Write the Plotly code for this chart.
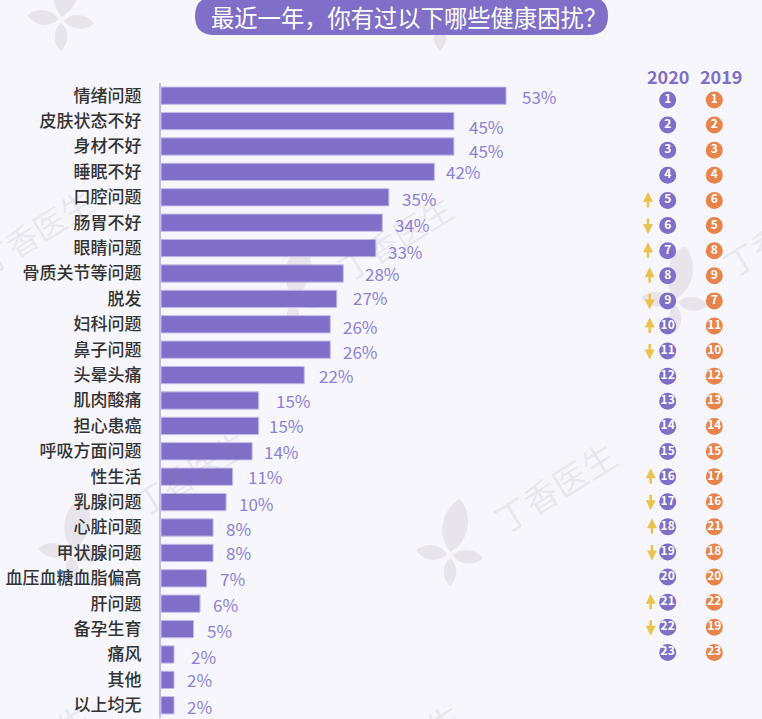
import math

import plotly.graph_objects as go

FONT = "Noto Sans CJK SC"
BG = "#f7f6fc"
PURPLE = "#7f6fc8"
PURPLE_TEXT = "#8c82d6"
ORANGE = "#e8834a"
YELLOW = "#ecc24f"

TITLE = "最近一年，你有过以下哪些健康困扰？"

CATEGORIES = [
    "情绪问题", "皮肤状态不好", "身材不好", "睡眠不好", "口腔问题",
    "肠胃不好", "眼睛问题", "骨质关节等问题", "脱发", "妇科问题",
    "鼻子问题", "头晕头痛", "肌肉酸痛", "担心患癌", "呼吸方面问题",
    "性生活", "乳腺问题", "心脏问题", "甲状腺问题", "血压血糖血脂偏高",
    "肝问题", "备孕生育", "痛风", "其他", "以上均无",
]
VALUES = [53, 45, 45, 42, 35, 34, 33, 28, 27, 26, 26, 22, 15, 15, 14,
          11, 10, 8, 8, 7, 6, 5, 2, 2, 2]

YEARS = ["2020", "2019"]
RANK_2020 = [1, 2, 3, 4, 5, 6, 7, 8, 9, 10, 11, 12, 13, 14, 15, 16, 17, 18, 19, 20, 21, 22, 23]
RANK_2019 = [1, 2, 3, 4, 6, 5, 8, 9, 7, 11, 10, 12, 13, 14, 15, 17, 16, 21, 18, 20, 22, 19, 23]

# the percent labels sit a little unevenly in the original
LABEL_DX = [16, 15, 15, 12, 13, 13, 12, 22, 16, 13, 13, 15, 17, 10, 12,
            15, 13, 13, 13, 13, 13, 13, 17, 13, 13]
LABEL_DY = [1, 5, 4, 0, 1, 2, 3, 0, -1, 2, 2, 0, 0, 0, 0, 0, 1, 1, 0, 0, 1, 1, 2, 0, 1]
ARROW_DX = {5: -19.7, 6: -19.7, 7: -19.7, 8: -18, 9: -18, 10: -18, 11: -18,
            16: -17, 17: -17, 18: -15.7, 19: -15.7, 21: -17, 22: -17}

WIDTH, HEIGHT = 762, 719
PLOT_L, PLOT_T, PLOT_B = 161, 83, 718


def paper_x(px):
    return (px - PLOT_L) / (WIDTH - PLOT_L)


def paper_y(py):
    return (PLOT_B - py) / (PLOT_B - PLOT_T)


def petal(cx, cy, angle, length, width):
    # leaf shape from the flower centre outwards, as an svg path in paper coords
    a = math.radians(angle)
    ux, uy = math.cos(a), -math.sin(a)
    nx, ny = -uy, ux
    pt = lambda along, side: f"{paper_x(cx + ux * along + nx * side):.4f},{paper_y(cy + uy * along + ny * side):.4f}"
    return (f"M{pt(3, 0)} C{pt(length * 0.3, width * 0.7)} {pt(length * 0.75, width * 0.7)} {pt(length, 0)} "
            f"C{pt(length * 0.75, -width * 0.7)} {pt(length * 0.3, -width * 0.7)} {pt(3, 0)} Z")


def flower(cx, cy):
    parts = [(80, 57, 24), (172, 34, 14), (-6, 33, 13), (-90, 31, 12)]
    return [
        dict(type="path", xref="paper", yref="paper", layer="below", line_width=0,
             fillcolor="#e7e5eb", path=petal(cx, cy, ang, ln, wd))
        for ang, ln, wd in parts
    ]


fig = go.Figure()

fig.add_trace(go.Bar(
    x=VALUES, y=CATEGORIES, orientation="h",
    marker=dict(color=PURPLE, line=dict(color="#c3bbe9", width=1)),
    width=0.68,
    showlegend=False,
))

# x2 positions are plain indices: a category named "2020" would be read as index 2020
for i, (ranks, color) in enumerate(zip((RANK_2020, RANK_2019), (PURPLE, ORANGE))):
    fig.add_trace(go.Scatter(
        x=[i] * len(ranks), y=list(range(1, len(ranks) + 1)),
        xaxis="x2", yaxis="y2",
        mode="markers+text",
        marker=dict(size=17, color=color),
        text=[str(r) for r in ranks],
        textposition="middle center",
        textfont=dict(family=FONT, size=12, color="white", weight="bold"),
        cliponaxis=False,
        showlegend=False,
    ))

annotations = []

# percent labels
for cat, val, dx, dy in zip(CATEGORIES, VALUES, LABEL_DX, LABEL_DY):
    annotations.append(dict(
        x=val, y=cat, xref="x", yref="y", text=f"{val}%", showarrow=False,
        xanchor="left", yanchor="middle", xshift=dx - 2, yshift=-dy,
        font=dict(family=FONT, size=17, color=PURPLE_TEXT),
    ))

# rank change arrows
for pos, (now, before) in enumerate(zip(RANK_2020, RANK_2019), start=1):
    if now == before:
        continue
    up = before > now
    annotations.append(dict(
        x=0, y=pos, xref="x2", yref="y2", text="",
        showarrow=True, arrowhead=2, arrowsize=0.8, arrowwidth=2.5, arrowcolor=YELLOW,
        ax=0, ay=17 if up else -17, standoff=0,
        xshift=ARROW_DX[now], yshift=8.5 if up else -8.5,
    ))

# year headers
for i, (year, shift) in enumerate(zip(YEARS, (0, 7))):
    annotations.append(dict(
        x=i, y=paper_y(76), xref="x2", yref="paper", text=year, showarrow=False,
        xanchor="center", yanchor="middle", xshift=shift,
        font=dict(family=FONT, size=18, color=PURPLE, weight="bold"),
    ))

# title on the pill
annotations.append(dict(
    x=paper_x(409), y=paper_y(17), xref="paper", yref="paper", text=TITLE, showarrow=False,
    xanchor="center", yanchor="middle",
    font=dict(family=FONT, size=23.3, color="white"),
))

# 丁香医生 watermarks
for cx, cy, size in [(35, 231, 32), (395, 237, 32), (780, 233, 32), (190, 472, 32),
                     (555, 487, 34), (400, 748, 34), (30, 748, 34)]:
    annotations.append(dict(
        x=paper_x(cx), y=paper_y(cy), xref="paper", yref="paper", text="丁香医生",
        showarrow=False, textangle=-32, xanchor="center", yanchor="middle",
        font=dict(family=FONT, size=size, color="rgba(130,120,145,0.13)"),
    ))

shapes = []
for cx, cy in [(61, 20), (440, 20), (293, 300), (675, 302), (72, 553), (450, 555)]:
    shapes += flower(cx, cy)

# pill behind the title
x0, x1, y0, y1, r = 195, 608, -3, 35, 19
pt = lambda x, y: f"{paper_x(x):.4f},{paper_y(y):.4f}"
shapes.append(dict(
    type="path", xref="paper", yref="paper", layer="below", line_width=0, fillcolor=PURPLE,
    path=(f"M{pt(x0 + r, y0)} L{pt(x1 - r, y0)} Q{pt(x1, y0)} {pt(x1, y0 + r)} Q{pt(x1, y1)} {pt(x1 - r, y1)} "
          f"L{pt(x0 + r, y1)} Q{pt(x0, y1)} {pt(x0, y0 + r)} Q{pt(x0, y0)} {pt(x0 + r, y0)} Z"),
))

fig.update_layout(
    width=WIDTH, height=HEIGHT,
    margin=dict(l=PLOT_L, r=0, t=PLOT_T, b=HEIGHT - PLOT_B),
    paper_bgcolor=BG, plot_bgcolor="rgba(0,0,0,0)",
    font=dict(family=FONT),
    xaxis=dict(range=[0, (WIDTH - PLOT_L) / 6.51], visible=False),
    yaxis=dict(
        type="category", categoryorder="array", categoryarray=CATEGORIES,
        range=[24.5, -0.5], showgrid=False, zeroline=False,
        showline=True, linecolor="#c3bbe9", linewidth=2,
        ticks="outside", ticklen=14, tickcolor="rgba(0,0,0,0)",
        tickfont=dict(family=FONT, size=17, color="#333333", weight=500),
    ),
    # rank bubbles get their own scale: 46.6 px between columns, 25.11 px between rows
    xaxis2=dict(
        overlaying="x", range=[-(667.7 - PLOT_L) / 46.6, (WIDTH - 667.7) / 46.6], visible=False,
    ),
    yaxis2=dict(
        overlaying="y", range=[1 + (PLOT_B - 100) / 25.11, 1 - (100 - PLOT_T) / 25.11], visible=False,
    ),
    annotations=annotations,
    shapes=shapes,
)

fig.write_html(
    "out.html",
    config={"displayModeBar": False},
    post_script=f"document.body.style.margin='0';document.body.style.background='{BG}';",
)
